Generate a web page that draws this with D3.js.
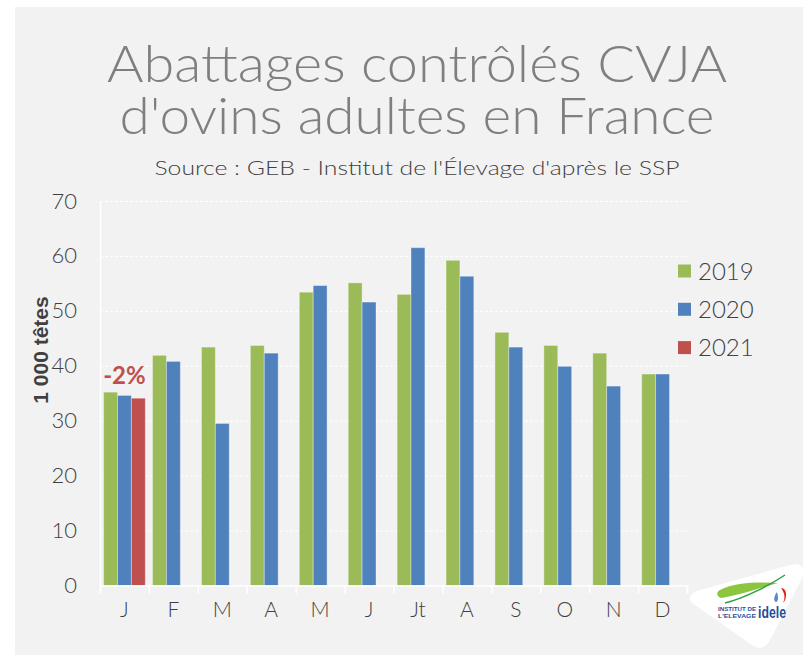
<!DOCTYPE html>
<html>
<head>
  <meta charset="utf-8">
  <title>Abattages CVJA ovins adultes</title>
  <script src="https://cdn.jsdelivr.net/npm/d3@7"></script>
  <style>
    body { margin: 0; background: #fff; }
    text { font-family: Lato, "Open Sans", sans-serif; }
  </style>
</head>
<body>
  <svg id="chart" width="803" height="655"></svg>
  <script>
    // monthly values, thousand head
    var months = ['J', 'F', 'M', 'A', 'M', 'J', 'Jt', 'A', 'S', 'O', 'N', 'D'];
    var years = ['2019', '2020', '2021'];
    var v2019 = [35.2, 41.9, 43.4, 43.7, 53.4, 55.1, 53.0, 59.2, 46.1, 43.7, 42.3, 38.5];
    var v2020 = [34.6, 40.8, 29.5, 42.3, 54.6, 51.6, 61.5, 56.3, 43.4, 39.9, 36.3, 38.5];
    var v2021 = [34.1];
    var yTicks = [0, 10, 20, 30, 40, 50, 60, 70];
    var note = '-2%';

    var colors = { '2019': '#9bbb59', '2020': '#4f81bd', '2021': '#c0504d' };
    var series = { '2019': v2019, '2020': v2020, '2021': v2021 };

    var svg = d3.select('#chart');
    var margin = { top: 201, left: 100, right: 116, bottom: 69.5 };
    var W = +svg.attr('width'), H = +svg.attr('height');

    svg.append('rect').attr('x', 15).attr('y', 7)
      .attr('width', W - 15).attr('height', H - 7).attr('fill', '#f2f2f2');

    // titles, stretched to the width of the original's wide font
    svg.append('text').attr('x', 417).attr('y', 82)
      .attr('text-anchor', 'middle').attr('font-size', 52).attr('font-weight', 300)
      .attr('textLength', 620).attr('lengthAdjust', 'spacingAndGlyphs')
      .attr('fill', '#7f7f7f').text('Abattages contrôlés CVJA');
    svg.append('text').attr('x', 417).attr('y', 134)
      .attr('text-anchor', 'middle').attr('font-size', 52).attr('font-weight', 300)
      .attr('textLength', 595).attr('lengthAdjust', 'spacingAndGlyphs')
      .attr('fill', '#7f7f7f').text("d'ovins adultes en France");
    svg.append('text').attr('x', 417).attr('y', 175)
      .attr('text-anchor', 'middle').attr('font-size', 20).attr('font-weight', 300)
      .attr('textLength', 525).attr('lengthAdjust', 'spacingAndGlyphs')
      .attr('fill', '#404040').text("Source : GEB - Institut de l'Élevage d'après le SSP");

    var x0 = d3.scaleBand()
      .domain(d3.range(months.length))
      .range([margin.left, W - margin.right]);
    var gap = x0.bandwidth() * 0.074;
    var x1 = d3.scaleBand().domain(years).range([gap, x0.bandwidth() - gap]);
    var y = d3.scaleLinear().domain([0, 70]).range([H - margin.bottom, margin.top]);

    // grid lines
    var grid = svg.append('g').attr('transform', 'translate(' + margin.left + ',0)')
      .call(d3.axisLeft(y).tickValues(yTicks.slice(1)).tickSize(-(W - margin.right - margin.left)).tickFormat(''));
    grid.select('.domain').remove();
    grid.selectAll('line').attr('stroke', '#ffffff').attr('stroke-dasharray', '3,2').attr('stroke-width', 1);

    // bars
    years.forEach(function (yr) {
      svg.append('g').selectAll('rect')
        .data(series[yr])
        .enter().append('rect')
        .attr('x', function (d, i) { return x0(i) + x1(yr); })
        .attr('y', function (d) { return y(d); })
        .attr('width', x1.bandwidth())
        .attr('height', function (d) { return y(0) - y(d); })
        .attr('fill', colors[yr])
        .attr('stroke', 'rgba(255,255,255,0.35)')
        .attr('stroke-width', 1);
    });

    // y axis
    var yAxis = svg.append('g').attr('transform', 'translate(' + margin.left + ',0)')
      .call(d3.axisLeft(y).tickValues(yTicks).tickSize(0).tickPadding(23));
    yAxis.select('.domain').attr('stroke', '#ffffff').attr('stroke-width', 1.5);
    yAxis.selectAll('text').attr('font-size', 22).attr('font-weight', 300).attr('fill', '#404040')
      .style('font-family', 'Lato, sans-serif');

    // x axis: boundary ticks then labels
    var xb = d3.scaleLinear().domain([0, months.length]).range([margin.left, W - margin.right]);
    var xTicks = svg.append('g').attr('transform', 'translate(0,' + y(0) + ')')
      .call(d3.axisBottom(xb).ticks(months.length).tickSize(8).tickFormat(''));
    xTicks.selectAll('line, path').attr('stroke', '#ffffff').attr('stroke-width', 1.5);

    var xAxis = svg.append('g').attr('transform', 'translate(0,' + y(0) + ')')
      .call(d3.axisBottom(x0).tickSize(0).tickPadding(17).tickFormat(function (i) { return months[i]; }));
    xAxis.select('.domain').remove();
    xAxis.selectAll('text').attr('font-size', 21).attr('font-weight', 300).attr('fill', '#404040')
      .style('font-family', 'Lato, sans-serif');

    // axis title
    svg.append('text')
      .attr('transform', 'translate(48,350) rotate(-90)')
      .attr('text-anchor', 'middle').attr('font-size', 21).attr('font-weight', 'bold')
      .style('font-family', '"Liberation Sans", Arial, sans-serif')
      .attr('fill', '#404040').text('1 000 têtes');

    // annotation
    svg.append('text')
      .attr('x', x0(0) + x1('2020') + x1.bandwidth() / 2).attr('y', 384)
      .attr('text-anchor', 'middle').attr('font-size', 24).attr('font-weight', 'bold')
      .attr('fill', '#c0504d').text(note);

    // legend
    var leg = svg.append('g').selectAll('g').data(years).enter().append('g')
      .attr('transform', function (d, i) { return 'translate(678,' + (271 + i * 38.3) + ')'; });
    leg.append('rect').attr('x', 0).attr('y', -6.5).attr('width', 13).attr('height', 13)
      .attr('fill', function (d) { return colors[d]; });
    leg.append('text').attr('x', 20).attr('y', 8.5).attr('font-size', 24).attr('font-weight', 300)
      .attr('fill', '#404040').text(function (d) { return d; });

    // logo
    var logo = svg.append('g');
    logo.append('path')
      .attr('d', 'M692,603 C688,598 690,594 697,591 L790,565 C803,562 806,570 802,578 L770,640 C766,648 760,650 752,645 Z')
      .attr('fill', '#ffffff');
    logo.append('path')
      .attr('d', 'M720,590 C735,582 760,582 778,583 C760,588 740,595 722,598 C716,597 716,592 720,590 Z')
      .attr('fill', '#8cc63f');
    logo.append('path')
      .attr('d', 'M725,603 C745,598 770,585 785,575')
      .attr('fill', 'none').attr('stroke', '#2e9e46').attr('stroke-width', 1.5);
    logo.append('path')
      .attr('d', 'M781,588 C788,588 787,600 783,603 C786,597 784,592 781,588 Z')
      .attr('fill', '#e2231a');
    logo.append('path')
      .attr('d', 'M777,592 C774,596 773,601 776,602 C779,601 778,596 777,592 Z')
      .attr('fill', '#5a8ac6');
    logo.append('text').attr('x', 718).attr('y', 611).attr('font-size', 6).attr('font-weight', 'bold')
      .attr('textLength', 38).attr('lengthAdjust', 'spacingAndGlyphs')
      .attr('fill', '#1f4e9c').style('font-family', '"Liberation Sans", sans-serif').text('INSTITUT DE');
    logo.append('text').attr('x', 718).attr('y', 618).attr('font-size', 6).attr('font-weight', 'bold')
      .attr('textLength', 38).attr('lengthAdjust', 'spacingAndGlyphs')
      .attr('fill', '#1f4e9c').style('font-family', '"Liberation Sans", sans-serif').text("L'ELEVAGE");
    logo.append('text').attr('x', 758).attr('y', 618).attr('font-size', 16).attr('font-weight', 'bold')
      .attr('textLength', 28).attr('lengthAdjust', 'spacingAndGlyphs')
      .attr('fill', '#1f4e9c').style('font-family', '"Liberation Sans", sans-serif').text('idele');
  </script>
</body>
</html>
